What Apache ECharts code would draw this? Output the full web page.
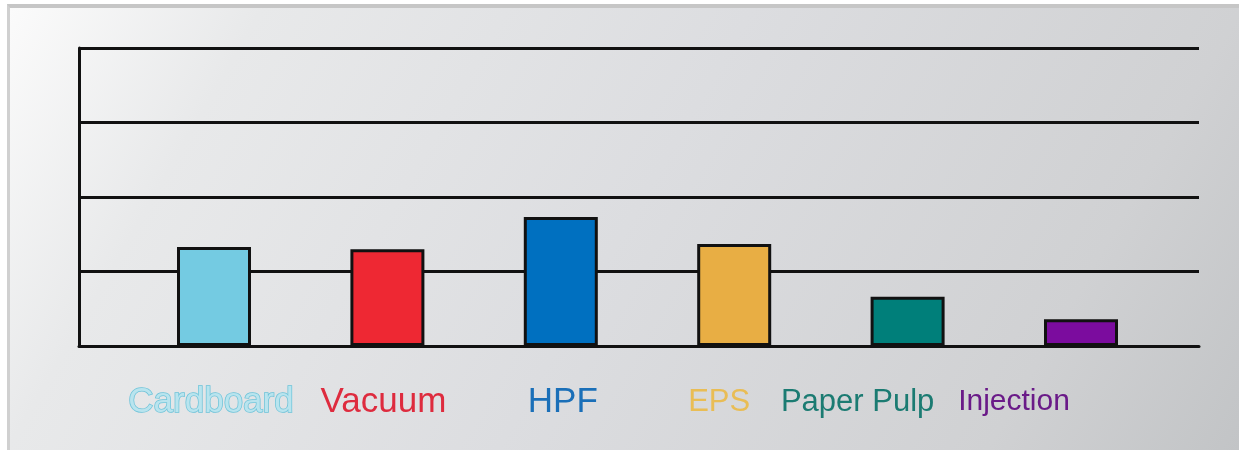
<!DOCTYPE html>
<html>
<head>
<meta charset="utf-8">
<script src="https://cdn.jsdelivr.net/npm/echarts@6/dist/echarts.min.js"></script>
<style>
  html, body { margin: 0; padding: 0; background: #ffffff; }
  #wrap { position: relative; width: 1239px; height: 450px; overflow: hidden; }
  #panel {
    position: absolute; left: 7px; top: 4px; width: 1232px; height: 446px;
    box-sizing: border-box;
    border-top: 4px solid #c6c6c6; border-left: 3px solid #d0d0d0;
    background: linear-gradient(120deg, #fbfbfb 0%, #e8e9ea 17%, #dcdde0 50%, #d0d1d3 83%, #c2c4c6 100%);
  }
  #chart { position: absolute; left: 0; top: 0; width: 1239px; height: 450px; }
</style>
</head>
<body>
<div id="wrap">
  <div id="panel"></div>
  <div id="chart"></div>
</div>
<script>
// ---- data ----
const categories = ['Cardboard', 'Vacuum', 'HPF', 'EPS', 'Paper Pulp', 'Injection'];
const values = [1.33, 1.30, 1.73, 1.37, 0.66, 0.36];
const barColors = ['#74cbe2', '#ee2833', '#0070c0', '#e8ae44', '#007f7a', '#7b0c9e'];
const labelColors = ['#b9e4ee', '#de2b3e', '#1a6fb8', '#e9bd55', '#1b7b72', '#6a1a88'];
const yTicks = [0, 1, 2, 3, 4];

// per-label horizontal shift and size (labels sit off the bar centres in the reference)
const labelShift = [-3, -4, 2, -15, -50, -67];
const labelSize = [35, 35, 35, 31, 31, 30];

const rich = {};
categories.forEach((c, i) => {
  const d = labelShift[i];
  const st = {
    color: labelColors[i],
    fontSize: labelSize[i],
    lineHeight: 40,
    fontFamily: 'Liberation Sans, Arial, sans-serif',
    padding: d >= 0 ? [0, 0, 0, 2 * d] : [0, -2 * d, 0, 0]
  };
  if (i === 0) {
    st.textBorderColor = '#6cc3d9';
    st.textBorderWidth = 1.5;
  }
  rich['c' + i] = st;
});

const chart = echarts.init(document.getElementById('chart'), null, { renderer: 'canvas' });
chart.setOption({
  backgroundColor: 'transparent',
  animation: false,
  grid: [
    { left: 79, right: 40, top: 48, bottom: 104 },
    { left: 127.3, right: 71.3, top: 48, bottom: 104 }
  ],
  xAxis: [
    {
      gridIndex: 0, type: 'value', min: 0, max: 1,
      axisLine: { show: true, lineStyle: { color: '#111', width: 3 } },
      axisTick: { show: false }, axisLabel: { show: false }, splitLine: { show: false }
    },
    {
      gridIndex: 1, type: 'category', data: categories,
      axisLine: { show: false }, axisTick: { show: false }, splitLine: { show: false },
      axisLabel: {
        interval: 0, margin: 36,
        formatter: function (v) { const i = categories.indexOf(v); return '{c' + i + '|' + v + '}'; },
        rich: rich
      }
    }
  ],
  yAxis: [
    {
      gridIndex: 0, type: 'value', min: yTicks[0], max: yTicks[yTicks.length - 1], interval: 1,
      axisLine: { show: true, lineStyle: { color: '#111', width: 3 } },
      axisTick: { show: false }, axisLabel: { show: false },
      splitLine: { show: true, lineStyle: { color: '#111', width: 3 } }
    },
    {
      gridIndex: 1, type: 'value', min: yTicks[0], max: yTicks[yTicks.length - 1], interval: 1,
      show: false
    }
  ],
  series: [{
    type: 'bar',
    xAxisIndex: 1, yAxisIndex: 1,
    barWidth: 74,
    data: values.map((v, i) => ({
      value: v,
      itemStyle: { color: barColors[i], borderColor: '#111', borderWidth: 3 }
    }))
  }]
});
</script>
</body>
</html>
